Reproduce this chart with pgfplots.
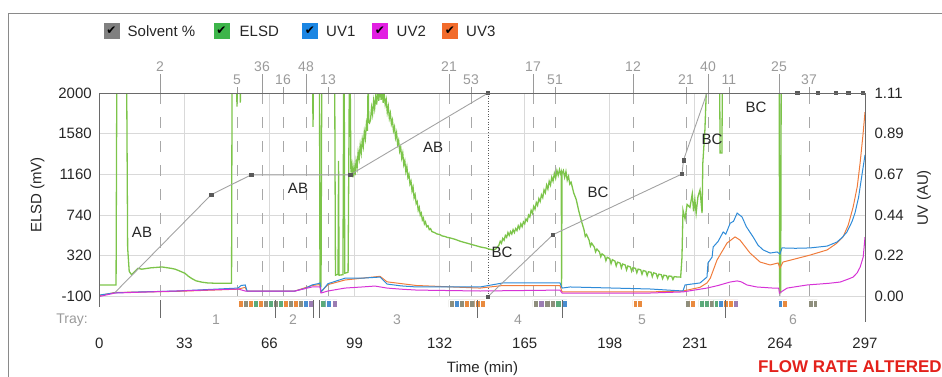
\documentclass[border=0pt]{standalone}
\usepackage{fontspec}
\setmainfont{Liberation Sans}
\newfontfamily\symfont{DejaVu Sans}
\usepackage{pgfplots}
\pgfplotsset{compat=1.18}
\definecolor{gridgray}{HTML}{D9D9D9}
\definecolor{fracgray}{HTML}{A8A8A8}
\definecolor{lblgray}{HTML}{9A9A9A}
\definecolor{axdark}{HTML}{6A6A6A}
\definecolor{framegray}{HTML}{8A8A8A}
\definecolor{elsd}{HTML}{7CC44A}
\definecolor{uvone}{HTML}{2E8BD8}
\definecolor{uvtwo}{HTML}{D633D6}
\definecolor{uvthree}{HTML}{F07C3C}
\definecolor{solv}{HTML}{A3A3A3}
\definecolor{solvmk}{HTML}{5A5A5A}
\definecolor{lgsolv}{HTML}{808080}
\definecolor{lgelsd}{HTML}{3DB54A}
\definecolor{lguvone}{HTML}{1B86E3}
\definecolor{lguvtwo}{HTML}{E21FE2}
\definecolor{lguvthree}{HTML}{F26B2B}
\definecolor{sO}{HTML}{E98A3E}
\definecolor{sGy}{HTML}{8E8E7C}
\definecolor{sGn}{HTML}{5BAA7A}
\definecolor{sB}{HTML}{4A8ED0}
\definecolor{sP}{HTML}{9B7DB3}
\definecolor{flowred}{HTML}{E3211B}
\definecolor{txt}{HTML}{262626}
\newcommand{\fs}[1]{\fontsize{#1}{#1}\selectfont}
\newcommand{\stripe}[3]{\addplot[fill=#3,draw=white,line width=0.3pt,forget plot] coordinates {(#1,-136) (#2,-136) (#2,-210) (#1,-210) (#1,-136)};}
\pgfplotsset{geom/.style={at={(99.3pt,79.5pt)},anchor=south west,scale only axis,width=765.7pt,height=203.5pt,xmin=0,xmax=297}}
\begin{document}
\begin{tikzpicture}
\path[use as bounding box] (0pt,0pt) rectangle (942pt,376pt);
\draw[framegray, line width=0.9pt] (8pt,-20pt) -- (8pt,363pt) -- (960pt,363pt);

% ---------------- main ELSD axis ----------------
\begin{axis}[geom, ymin=-100, ymax=2000,
  axis line style={draw=none},
  xtick={0,33,66,99,132,165,198,231,264,297},
  xticklabels={0,33,66,99,132,165,198,231,264,297},
  ytick={-100,320,740,1160,1580,2000},
  yticklabels={-100,320,740,1160,1580,2000},
  major tick length=0pt,
  grid=major, major grid style={gridgray, line width=0.8pt},
  tick label style={font=\fs{15}, text=txt},
  xticklabel style={anchor=center, yshift=-47pt},
  yticklabel style={anchor=east, xshift=-4pt},
]
\pgfplotsinvokeforeach{23.55,53.43,63.13,71.26,80.18,88.71,135.65,144.18,168.23,176.77,207.02,227.58,236.11,244.26,263.65,275.29}{
  \addplot[fracgray, line width=0.8pt, dash pattern=on 11pt off 13pt, forget plot] coordinates {(#1,2000) (#1,-100)};
}
\addplot[solvmk, line width=0.6pt, dotted, forget plot] coordinates {(150.8,2000) (150.8,-100)};
% ELSD (mV)
\addplot[elsd, line width=1.3pt, forget plot] coordinates {
(0,19) (6.5,19) (6.8,2200) (10.6,2200) (11.0,400) (11.6,160) (12.5,125) (13.5,150) (15.0,190) (16.5,182) (18,188) (20,196) (22,200) (24.3,205) (26,198) (28,190) (29.4,182) (31,165) (33.2,140) (34.5,110) (35.9,85) (37.5,62) (39.8,48) (42,40) (45,37) (48,36) (51.3,36)
(51.5,2200) (53.2,2200) (53.4,1860) (53.6,2200) (54.5,2200) (54.7,1900) (54.9,2200) (82.7,2200) (82.9,1650) (83.1,2200) (85.4,2200) (85.6,0) (86.0,0) (86.3,2200) (91.3,2200) (91.6,120) (92.6,130) (92.8,1300) (93.0,120) (94.5,125) (94.8,2200) (95.0,2200) (95.2,140) (96.5,150) (97.0,2200) (97.3,2200)
(97.6,1180) (98.0,1260) (98.4,1130) (98.8,1240) (99.2,1150) (99.6,1300) (100.0,1230) (100.4,1390) (100.8,1320) (101.2,1460) (101.6,1380) (102.0,1520) (102.4,1450) (102.8,1600) (103.2,1530) (103.6,1680) (104.0,1610) (104.3,2200) (104.5,1700) (104.8,1690) (105.2,1720) (105.6,1850) (106.0,1780) (106.4,1920) (106.8,1840) (107.2,1960) (107.6,1880) (108.0,2050) (108.4,1920) (108.9,2060) (109.3,1930) (109.7,2040) (110.1,1900) (110.5,1990) (110.9,1880) (111.3,1930) (111.7,1800) (112.1,1860) (112.5,1740) (112.9,1790) (113.3,1680) (113.7,1720) (114.1,1610) (114.5,1650) (114.9,1540) (115.3,1590) (115.7,1470) (116.1,1510) (116.5,1400) (116.9,1440) (117.3,1330) (117.7,1380) (118.1,1260) (118.5,1300) (118.9,1190) (119.3,1240) (119.7,1130) (120.1,1160) (120.5,1060) (120.9,1090) (121.3,990) (121.7,1030) (122.1,920) (122.5,950) (122.9,860) (123.3,880) (123.7,790) (124.1,820) (124.5,740) (124.9,760) (125.3,690) (125.7,710) (126.1,650) (126.5,670) (127,620) (127.5,630) (128,590) (128.5,600) (129,570) (130,560) (131,545) (132,540) (133,525) (134,520) (135,510) (136,505) (138,490) (140,470) (142,455) (144,440) (146,425) (148,410) (150,400) (151,390) (152,385) (153,380) (154,395)
(155,430) (155.5,470) (156,450) (156.5,500) (157,480) (157.5,530) (158,510) (158.5,560) (159,530) (159.5,570) (160,545) (160.5,590) (161,560) (161.5,600) (162,580) (162.5,630) (163,600) (163.5,650) (164,620) (164.5,670) (165,650) (165.5,700) (166,680) (166.5,740) (167,720) (167.5,790) (168,760) (168.5,830) (169,800) (169.5,870) (170,840) (170.5,910) (171,880) (171.5,950) (172,920) (172.5,1000) (173,970) (173.5,1050) (174,1010) (174.5,1090) (175,1050) (175.5,1130) (176,1090) (176.5,1170) (177,1120) (177.5,1200) (178,1150) (178.5,1210) (179,1160) (179.2,1180) (179.3,0) (179.5,1170) (180,1200) (180.5,1130) (181,1190) (181.5,1100) (182,1140) (182.5,1060) (183,1080) (184,970) (185,900) (186,780) (187,680) (188,590) (188.5,520) (189,540) (190,480) (190.5,420) (191,450) (192,410) (192.5,360) (193,390) (194,360) (194.5,310) (195,340) (196,320) (196.5,270) (197,305) (198,290) (198.5,240) (199,280) (200,265) (200.5,215) (201,255) (202,245) (202.5,195) (203,235) (204,225) (204.5,175) (205,215) (206,205) (206.5,160) (207,198) (208,190) (208.5,145) (209,183) (210,175) (210.5,130) (211,168) (212,160) (212.5,115) (213,155) (214,150) (214.5,105) (215,145) (216,135) (216.5,95) (217,130) (218,125) (218.5,85) (219,120) (220,115) (220.5,80) (221,112) (222,108) (222.5,75) (223,105) (224,102) (225.5,100)
(226.0,300) (226.4,790) (227.2,700) (228,850) (229.1,820) (230,960) (230.5,780) (231,900) (231.5,760) (232.2,930) (233.0,1000) (233.8,760) (234.1,1280) (234.9,1620) (235.7,2200) (240.6,2200) (240.8,1380) (241.5,1380) (241.7,2200) (263.7,2200) (263.9,-60) (264.3,-60) (264.5,2200) (297,2200)
};
\end{axis}

% ---------------- UV axis ----------------
\begin{axis}[geom, ymin=0, ymax=1.11,
  axis x line=none, axis y line*=right, axis line style={draw=none},
  major tick length=0pt,
  ytick={0,0.222,0.444,0.666,0.888,1.11},
  yticklabels={0.00,0.22,0.44,0.67,0.89,1.11},
  tick label style={font=\fs{15}, text=txt},
  yticklabel style={anchor=west, xshift=6pt},
]
\addplot[uvthree, line width=1pt] coordinates {
(0,0.005) (6,0.022) (30,0.028) (53.8,0.04) (56.6,0.05) (57.3,0.03) (75.9,0.03) (82.5,0.06) (85.6,0.065) (86.0,0.025) (88.7,0.065) (95.3,0.09) (101.9,0.1) (108.9,0.11) (111.6,0.08) (123,0.06) (147.7,0.046) (156.6,0.06) (178.7,0.06) (179.5,0.025) (213.6,0.025) (226.4,0.03) (233,0.05) (235.7,0.074) (237,0.1) (239.6,0.199) (243.5,0.292) (246.6,0.325) (248.5,0.308) (252.4,0.237) (256.3,0.188) (260.2,0.172) (263.3,0.183) (264.0,0.155) (265.2,0.188) (275.7,0.226) (282.3,0.254) (286,0.29) (288.5,0.325) (290.5,0.39) (292.4,0.488) (294,0.6) (295.1,0.728) (296.2,0.88) (297,1.006)
};
\addplot[uvone, line width=1pt] coordinates {
(0,0.008) (6,0.02) (16,0.025) (30,0.03) (53.8,0.046) (55,0.06) (56.6,0.063) (57.3,0.03) (75.9,0.03) (80,0.045) (82.5,0.063) (84.8,0.07) (85.6,0.074) (86.0,0.025) (88.7,0.07) (95.3,0.10) (101.9,0.10) (108.9,0.106) (111.6,0.068) (117,0.058) (123,0.052) (147.7,0.052) (156.6,0.074) (178.7,0.074) (179.5,0.046) (182.6,0.052) (213.6,0.041) (226.4,0.03) (227.2,0.063) (233,0.074) (235.7,0.106) (236.1,0.183) (237.7,0.215) (238.1,0.27) (240,0.3) (242,0.352) (243,0.34) (244.7,0.40) (246,0.41) (247.4,0.455) (249.3,0.434) (251,0.38) (253.6,0.325) (255.5,0.28) (257.5,0.254) (260.2,0.237) (262.9,0.243) (264.0,0.232) (264.8,0.265) (270,0.263) (275.7,0.265) (282.3,0.275) (286.1,0.297) (288,0.32) (290,0.352) (292,0.41) (293.1,0.455) (294.5,0.54) (295.1,0.597) (296,0.68) (297,0.772)
};
\addplot[uvtwo, line width=1pt] coordinates {
(0,0.0) (6.1,0.019) (30,0.03) (53.8,0.041) (56.6,0.03) (75.9,0.03) (82.5,0.052) (85.6,0.052) (86.0,0.019) (88.7,0.030) (95.3,0.046) (101.9,0.052) (106.9,0.057) (111.6,0.046) (117,0.04) (123.2,0.035) (147.7,0.030) (178.7,0.035) (179.5,0.019) (213.6,0.019) (226.4,0.025) (235.7,0.046) (240,0.06) (244.7,0.079) (247.4,0.085) (249,0.08) (251.2,0.063) (255,0.052) (261.3,0.046) (263.5,0.046) (263.8,0.019) (266.8,0.046) (274.6,0.063) (283,0.072) (287.4,0.079) (290.5,0.095) (292.4,0.106) (294,0.13) (295.1,0.16) (296.3,0.215) (297,0.324)
};
\end{axis}

% ---------------- Solvent axis ----------------
\begin{axis}[geom, ymin=0, ymax=100, hide axis]
\addplot[solv, line width=0.9pt] coordinates {(6.1,2) (43.4,50) (58.9,59.8) (97.3,59.8) (150.8,100)};
\addplot[solv, line width=0.9pt] coordinates {(150.8,0) (176.0,30.4) (226.0,60.2) (226.6,67) (235.7,100) (297,100)};
\addplot[only marks, mark=square*, mark size=1.6pt, solvmk] coordinates {(43.4,50) (58.9,59.8) (97.3,59.8) (150.8,100) (150.8,0) (176.0,30.4) (226.0,60.2) (226.6,67) (270.7,100) (278.5,100) (285.5,100) (290.5,100) (296,100)};
\end{axis}

% ---------------- decorations axis ----------------
\begin{axis}[geom, ymin=-100, ymax=2000, hide axis, clip=false]
% fraction collection stripes
\stripe{53.8}{55.74}{sO}\stripe{55.74}{57.68}{sGy}\stripe{57.68}{59.62}{sO}\stripe{59.62}{61.56}{sGn}\stripe{61.56}{63.5}{sO}
\stripe{63.5}{65.44}{sGy}\stripe{65.44}{67.38}{sGn}\stripe{67.38}{69.32}{sGy}\stripe{69.32}{71.26}{sGn}\stripe{71.26}{73.2}{sO}
\stripe{73.2}{75.14}{sGy}\stripe{75.14}{77.08}{sO}\stripe{77.08}{79.02}{sGy}\stripe{79.02}{80.96}{sB}\stripe{80.96}{82.9}{sP}
\stripe{85.6}{87.8}{sGn}\stripe{87.8}{90.0}{sB}\stripe{90.4}{92.2}{sP}
\stripe{135.6}{137.6}{sGy}\stripe{137.6}{139.6}{sB}\stripe{139.6}{141.6}{sGy}\stripe{141.6}{143.6}{sO}\stripe{143.6}{145.6}{sGy}\stripe{145.6}{147.6}{sO}\stripe{147.6}{149.6}{sO}
\stripe{168.2}{170.4}{sGy}\stripe{170.4}{172.6}{sP}\stripe{172.6}{174.8}{sGy}\stripe{174.8}{177.0}{sGy}\stripe{177.0}{179.2}{sGn}\stripe{179.2}{181.4}{sB}
\stripe{207.0}{208.75}{sO}\stripe{208.75}{210.5}{sO}
\stripe{227.2}{229.1}{sGy}\stripe{229.1}{231.0}{sO}
\stripe{232.6}{234.5}{sGn}\stripe{234.5}{236.4}{sGn}\stripe{236.4}{238.3}{sGy}\stripe{238.3}{240.2}{sGn}\stripe{240.2}{242.1}{sB}\stripe{242.1}{244.0}{sO}\stripe{244.0}{245.9}{sO}\stripe{245.9}{247.8}{sP}
\stripe{263.3}{265.05}{sB}\stripe{265.05}{266.8}{sO}
\stripe{275.0}{276.75}{sGy}\stripe{276.75}{278.5}{sGy}
% tray boundary marks
\pgfplotsinvokeforeach{23.55,68.15,82.9,85.2,146.5,179.5,242.7}{
  \addplot[axdark, line width=0.8pt, forget plot] coordinates {(#1,-140) (#1,-322)};
}
% fraction ticks above the plot
\pgfplotsinvokeforeach{23.55,63.13,80.18,135.65,168.23,207.02,236.11,263.65}{
  \addplot[lblgray, line width=0.8pt, forget plot] coordinates {(#1,2000) (#1,2196)};
}
\pgfplotsinvokeforeach{53.43,71.26,88.71,144.18,176.77,227.58,244.26,275.29}{
  \addplot[lblgray, line width=0.8pt, forget plot] coordinates {(#1,2000) (#1,2062)};
}
% axis lines
\addplot[axdark, line width=1pt, forget plot] coordinates {(0,-208) (0,2000) (297,2000) (297,-363)};
\end{axis}

% ---------------- texts ----------------
\begin{scope}[every node/.style={inner sep=0pt}]
% legend
\fill[lgsolv] (103.5pt,337.5pt) rectangle (119.5pt,353.5pt);
\node at (111.5pt,345.5pt) {\symfont\fs{12}✔};
\node[anchor=west] at (127.5pt,345pt) {\fs{15}\color{txt}Solvent \%};
\fill[lgelsd] (213.5pt,337.5pt) rectangle (229.5pt,353.5pt);
\node at (221.5pt,345.5pt) {\symfont\fs{12}✔};
\node[anchor=west] at (239.5pt,345pt) {\fs{15}\color{txt}ELSD};
\fill[lguvone] (302pt,337.5pt) rectangle (318pt,353.5pt);
\node at (310pt,345.5pt) {\symfont\fs{12}✔};
\node[anchor=west] at (326pt,345pt) {\fs{15}\color{txt}UV1};
\fill[lguvtwo] (372pt,337.5pt) rectangle (388pt,353.5pt);
\node at (380pt,345.5pt) {\symfont\fs{12}✔};
\node[anchor=west] at (396.5pt,345pt) {\fs{15}\color{txt}UV2};
\fill[lguvthree] (442pt,337.5pt) rectangle (458pt,353.5pt);
\node at (450pt,345.5pt) {\symfont\fs{12}✔};
\node[anchor=west] at (466pt,345pt) {\fs{15}\color{txt}UV3};
% axis titles
\node[rotate=90] at (37.5pt,181pt) {\fs{15}\color{txt}ELSD (mV)};
\node[rotate=90] at (924pt,178pt) {\fs{15}\color{txt}UV (AU)};
\node[anchor=base] at (482.5pt,3.5pt) {\fs{15}\color{txt}Time (min)};
\node[anchor=base west] at (758pt,4pt) {\fs{17}\bfseries\color{flowred}FLOW RATE ALTERED};
% fraction labels
\foreach \px/\lab in {160/2,262/36,306/48,449/21,533/17,633/12,708/40,779/25}{
  \node at (\px pt,309pt) {\fs{14}\color{lblgray}\lab};
}
\foreach \px/\lab in {237/5,283/16,328/13,471/53,555/51,686/21,729/11,809/37}{
  \node at (\px pt,296pt) {\fs{14}\color{lblgray}\lab};
}
% tray labels
\node[anchor=east] at (88pt,56pt) {\fs{14}\color{lblgray}Tray:};
\foreach \px/\lab in {216/1,293/2,397/3,518/4,642/5,793/6}{
  \node at (\px pt,56pt) {\fs{14}\color{lblgray}\lab};
}
% peak annotations
\foreach \px/\py/\lab in {142/232/AB,298/188/AB,433/147/AB,502/252/BC,598/192/BC,712/139/BC,756/107/BC}{
  \node at (\px pt,376pt-\py pt) {\fs{15}\color{txt}\lab};
}
\end{scope}
\end{tikzpicture}
\end{document}
